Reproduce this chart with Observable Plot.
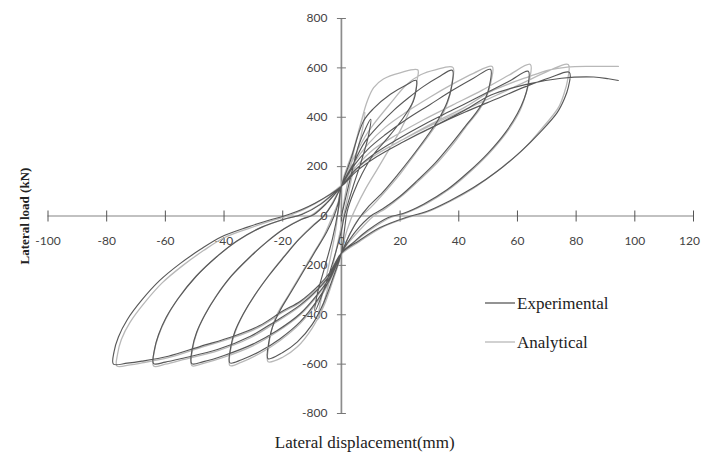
<!DOCTYPE html>
<html><head><meta charset="utf-8">
<script src="https://cdn.jsdelivr.net/npm/d3@7"></script>
<script src="https://cdn.jsdelivr.net/npm/@observablehq/plot@0.6"></script>
<style>body{margin:0;background:#fff} #chart svg{display:block}</style>
</head><body><div id="chart"></div>
<script>
// ---- tick values and labels ----
const xTicks = [-100,-80,-60,-40,-20,0,20,40,60,80,100,120];
const xTickLabels = ["-100","-80","-60","-40","-20","0","20","40","60","80","100","120"];
const yTicks = [-800,-600,-400,-200,0,200,400,600,800];
const yTickLabels = ["-800","-600","-400","-200","0","200","400","600","800"];
const seriesNames = ["Experimental","Analytical"];

// ---- Analytical curve (displacement mm, load kN), in loading order ----
const anaSmall = [[0,0],[2,130],[4,250],[6,350],[8,420],[7.3,360],[5,240],[2,70],[0,-40],[-2,-150],[-4,-260],[-6,-350],[-8,-420],[-7.3,-360],[-5,-240],[-2,-60],[-1,30],[0,125]];
const anaLoop1 = [[2,200],[4,265],[6.5,372],[8.8,465],[11,520],[14.3,555],[20,580],[26,592],
  [25.8,550],[25,490],[23,420],[20,345],[16,265],[12,185],[8,105],[5,35],[3,-20],[1,-95],[0,-155],
  [-3,-265],[-6,-365],[-10,-455],[-15,-530],[-20,-572],[-25,-590],
  [-24.8,-530],[-24,-470],[-22,-400],[-18,-320],[-14,-240],[-10,-160],[-6,-80],[-3,0],[-1,60],[0,125]];
const anaLoop2 = [[4,230],[8,320],[11,372],[17,460],[22,530],[27,572],[32,592],[38,602],
  [37.7,540],[36.5,470],[34,400],[30,330],[25,250],[20,170],[15,100],[10,35],[6,-10],[3,-70],[0,-155],
  [-4,-265],[-8,-345],[-14,-435],[-21,-505],[-28,-558],[-34,-592],[-38,-606],
  [-37.8,-545],[-36.5,-480],[-34,-410],[-30,-330],[-25,-245],[-20,-170],[-15,-100],[-10,-40],[-6,0],[-3,55],[0,125]];
const anaLoop3 = [[4,210],[9,290],[15,360],[22,420],[30,480],[38,535],[45,578],[51.4,606],
  [51,545],[49.7,490],[47,430],[43,370],[38,290],[33,220],[27,150],[21,85],[15,30],[11,0],[6,-60],[2,-115],[0,-155],
  [-4,-255],[-8,-320],[-14,-400],[-22,-470],[-30,-525],[-40,-572],[-47,-597],[-51,-606],
  [-50.8,-545],[-49.5,-480],[-47,-410],[-43,-330],[-38,-250],[-32,-175],[-26,-110],[-20,-55],[-14,-15],[-10,5],[-5,55],[0,125]];
const anaLoop4 = [[5,200],[11,270],[19,330],[28,390],[38,450],[48,510],[57,570],[64.4,614],
  [64,545],[63,500],[61,430],[57,350],[51,262],[44,180],[37,110],[29,50],[22,12],[17,-5],[10,-55],[4,-110],[0,-155],
  [-4,-245],[-8,-300],[-14,-365],[-23,-436],[-31,-493],[-42,-545],[-54,-582],[-60,-600],[-64,-608],
  [-63.8,-550],[-62.5,-490],[-60,-420],[-56,-340],[-50,-250],[-43,-170],[-36,-105],[-28,-50],[-20,-15],[-14,5],[-7,50],[0,125]];
const anaLoop5 = [[5,190],[12,250],[21,310],[31,370],[42,430],[53,490],[63,545],[71,590],[77.3,614],
  [77,545],[76,500],[74,440],[68,350],[62,270],[54,190],[46,120],[38,65],[30,20],[23,-5],[14,-45],[6,-105],[0,-155],
  [-4,-235],[-8,-290],[-14,-350],[-20,-390],[-28,-450],[-37,-493],[-48,-533],[-59,-574],[-68,-595],[-72,-603],[-76.5,-608],
  [-76.3,-560],[-75,-500],[-72,-430],[-67,-350],[-61,-270],[-54,-200],[-47,-140],[-40,-88],[-31,-48],[-24,-20],[-17,5],[-9,50],[0,125]];
const anaFinal = [[5,190],[12,250],[21,310],[31,375],[42,440],[51,505],[64,565],[71,592],[77,603],[85,606],[94.4,606]];

// ---- Experimental curve ----
const expSmall = [[0,0],[3,150],[6,290],[10,392],[9.3,330],[7,230],[4,120],[1,0],[0,-60],[-3,-190],[-6,-300],[-9,-385],[-8.3,-320],[-6,-220],[-3,-90],[-1,30],[0,120]];
const expLoop1 = [[3,222],[7.5,384],[11,436],[16.7,493],[22.4,533],[25.5,549],
  [25.3,500],[24.5,465],[21,396],[15.7,315],[11,250],[7,170],[4,90],[2,20],[1,-60],[0,-150],
  [-3,-255],[-6,-350],[-10,-440],[-15,-510],[-20,-553],[-25,-578],
  [-24.8,-515],[-23.5,-450],[-21,-385],[-17,-305],[-13,-225],[-9,-145],[-5,-65],[-2.5,0],[-1,55],[0,120]];
const expLoop2 = [[4,210],[8,300],[13,370],[18,430],[23,480],[28,525],[33,562],[37.8,590],
  [37.5,520],[36,460],[33,390],[29,320],[24,240],[19,165],[14,95],[9,35],[6,-10],[3,-70],[0,-150],
  [-4,-258],[-8,-338],[-14,-428],[-21,-498],[-28,-550],[-34,-582],[-38,-595],
  [-37.7,-530],[-36.3,-468],[-33.5,-398],[-29.5,-320],[-24.5,-238],[-19.5,-165],[-14.5,-95],[-9.5,-38],[-6,0],[-3,50],[0,120]];
const expLoop3 = [[4,200],[9,270],[15,330],[22,390],[30,450],[38,510],[45,558],[50.8,594],
  [50.5,530],[49,475],[46,420],[42,360],[37,285],[32,215],[26,145],[20,80],[14,28],[10,0],[5,-60],[2,-110],[0,-150],
  [-4,-250],[-8,-315],[-14,-395],[-22,-465],[-30,-518],[-40,-565],[-47,-590],[-51,-598],
  [-50.8,-535],[-49.3,-470],[-46.5,-400],[-42.5,-322],[-37.5,-243],[-31.5,-170],[-25.5,-106],[-19.5,-52],[-13.5,-13],[-9.5,5],[-5,52],[0,120]];
const expLoop4 = [[5,190],[11,250],[19,310],[28,370],[38,430],[48,490],[57,545],[63.7,586],
  [63.4,520],[62.3,475],[60,415],[56,340],[50,255],[43,175],[36,106],[28,48],[21,10],[16,-6],[9,-58],[4,-108],[0,-150],
  [-4,-240],[-8,-296],[-14,-360],[-23,-430],[-31,-487],[-42,-540],[-54,-576],[-60,-592],[-64,-598],
  [-63.7,-540],[-62.3,-480],[-59.7,-410],[-55.5,-332],[-49.5,-244],[-42.5,-165],[-35.5,-100],[-27.5,-47],[-19.5,-13],[-13.5,6],[-7,48],[0,120]];
const expLoop5 = [[5,180],[12,240],[21,300],[31,360],[42,420],[53,475],[63,525],[71,560],[77.7,582],
  [77.3,520],[76,475],[73.6,420],[67.8,340],[61,260],[53,180],[45,115],[37,62],[29,18],[22,-6],[13,-48],[6,-100],[0,-150],
  [-4,-230],[-8,-284],[-14,-345],[-20,-385],[-28,-445],[-37,-488],[-48,-528],[-59,-568],[-68,-588],[-73,-596],[-77.7,-600],
  [-77.5,-550],[-76,-490],[-73,-420],[-68,-340],[-62,-262],[-55,-193],[-48,-135],[-41,-85],[-32,-45],[-25,-18],[-18,6],[-9,52],[0,120]];
const expFinal = [[5,180],[12,240],[21,300],[31,360],[42,428],[51,490],[63,533],[75,558],[86,563],[91,556],[94.4,549]];

// ---- build tables ----
const anaRows = [anaSmall,anaLoop1,anaLoop2,anaLoop3,anaLoop4,anaLoop5,anaFinal].flat().map(([x,y]) => ({x, y}));
const expRows = [expSmall,expLoop1,expLoop2,expLoop3,expLoop4,expLoop5,expFinal].flat().map(([x,y]) => ({x, y}));

const colors = {Experimental: "#585858", Analytical: "#b8b8b8"};
const tickFont = "Lato, 'Liberation Sans', sans-serif";
const serif = "'Liberation Serif', 'DejaVu Serif', serif";

const vTick = {draw(ctx){ ctx.moveTo(0,-5.5); ctx.lineTo(0,5.5); }};
const hTick = {draw(ctx){ ctx.moveTo(-4.5,0); ctx.lineTo(4.5,0); }};

const chart = Plot.plot({
  width: 702, height: 452,
  marginLeft: 47.5, marginRight: 9, marginTop: 18, marginBottom: 39,
  x: {domain: [-100, 120], axis: null},
  y: {domain: [-800, 800], axis: null},
  style: {background: "#fff", overflow: "visible"},
  marks: [
    Plot.ruleY([0], {stroke: "#adadad", strokeWidth: 1.7}),
    Plot.ruleX([0], {stroke: "#8c8c8c", strokeWidth: 1.7}),
    Plot.dot(xTicks, {x: d => d, y: 0, symbol: vTick, stroke: "#555", fill: "none", strokeWidth: 1}),
    Plot.dot(yTicks, {x: 0, y: d => d, symbol: hTick, stroke: "#777", fill: "none", strokeWidth: 1}),
    Plot.text(xTicks, {x: d => d, y: 0, text: (d, i) => xTickLabels[i], dy: 25,
      dx: 0, fontFamily: tickFont, fontSize: 12, fill: "#444",
      filter: d => d !== 120}),
    Plot.text(xTicks, {x: d => d, y: 0, text: (d, i) => xTickLabels[i], dy: 25,
      dx: -4, fontFamily: tickFont, fontSize: 12, fill: "#444",
      filter: d => d === 120}),
    Plot.text(yTicks, {x: 0, y: d => d, text: (d, i) => yTickLabels[i], dx: -14, textAnchor: "end", fontFamily: tickFont, fontSize: 12, fill: "#444"}),
    Plot.line(anaRows, {x: "x", y: "y", stroke: colors.Analytical, strokeWidth: 1.3, curve: "catmull-rom"}),
    Plot.line(expRows, {x: "x", y: "y", stroke: colors.Experimental, strokeWidth: 1.15, curve: "catmull-rom"}),
    Plot.text(["Lateral displacement(mm)"], {frameAnchor: "bottom", textAnchor: "middle", lineAnchor: "middle", dx: -6, dy: 29, fontFamily: serif, fontSize: 17, fill: "#222"}),
    Plot.text(["Lateral load (kN)"], {frameAnchor: "left", textAnchor: "middle", lineAnchor: "middle", dx: -23.5, rotate: -90, fontFamily: serif, fontWeight: "bold", fontSize: 13, fill: "#222"})
  ]
});

// legend inside the plot area
const svg = d3.select(chart);
const leg = svg.append("g").attr("text-anchor", "start");
seriesNames.forEach((name, i) => {
  const cy = 303 + i * 39;
  leg.append("line").attr("x1", 485).attr("x2", 515).attr("y1", cy).attr("y2", cy)
    .attr("stroke", colors[name]).attr("stroke-width", 1.3);
  leg.append("text").attr("x", 517).attr("y", cy).attr("dy", "0.35em").attr("text-anchor", "start")
    .attr("font-family", serif).attr("font-size", 17).attr("fill", "#222").text(name);
});

document.getElementById("chart").appendChild(chart);
</script></body></html>
